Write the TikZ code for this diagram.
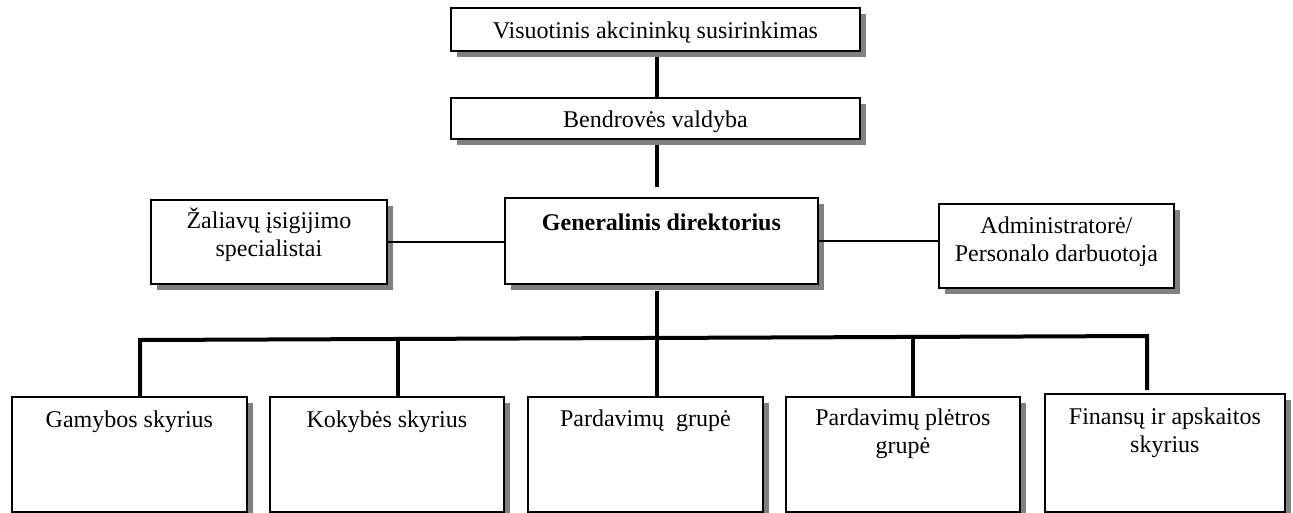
\documentclass[tikz,border=0pt]{standalone}
\usepackage{fontspec}
\setmainfont{Liberation Serif}
\usetikzlibrary{shadows}

% box contents: width, height, first baseline offset, text
\newcommand{\orgtext}[4]{\parbox[t][#2][t]{#1}{\centering\rule{0pt}{#3}#4}}

\tikzset{
  orgbox/.style={draw=black, line width=1.8pt, fill=white, inner sep=0pt,
    anchor=north west, font=\fontsize{24}{27.6}\selectfont,
    drop shadow={shadow xshift=6pt, shadow yshift=-6pt, fill=black!50, opacity=1}},
  trunk/.style={line width=4pt},
  side/.style={line width=1.3pt},
}

\begin{document}
\begin{tikzpicture}[x=1pt, y=-1pt]
  \useasboundingbox (0,0) rectangle (1293,512);

  % governing bodies
  \node[orgbox] (vas) at (450,7)   {\orgtext{409pt}{43pt}{30.5pt}{Visuotinis akcininkų susirinkimas}};
  \node[orgbox] (val) at (450,97)  {\orgtext{409pt}{41pt}{30pt}{Bendrovės valdyba}};

  % director level
  \node[orgbox] (zal) at (150,199) {\orgtext{236pt}{84pt}{29pt}{Žaliavų įsigijimo\\specialistai}};
  \node[orgbox] (gen) at (504,197) {\orgtext{313pt}{86pt}{33pt}{\bfseries Generalinis direktorius}};
  \node[orgbox] (adm) at (938,203) {\orgtext{235pt}{84pt}{30pt}{Administratorė/\\Personalo darbuotoja}};

  % departments
  \node[orgbox] (gam) at (11,396)   {\orgtext{235pt}{115pt}{31pt}{Gamybos skyrius}};
  \node[orgbox] (kok) at (269,396)  {\orgtext{234pt}{115pt}{31pt}{Kokybės skyrius}};
  \node[orgbox] (par) at (527,396)  {\orgtext{235pt}{115pt}{30pt}{Pardavimų\ \ grupė}};
  \node[orgbox] (ple) at (785,396)  {\orgtext{234pt}{115pt}{29pt}{Pardavimų plėtros\\grupė}};
  \node[orgbox] (fin) at (1044,393) {\orgtext{240pt}{118pt}{31pt}{Finansų ir apskaitos\\skyrius}};

  % vertical spine and branch points on the distribution bar
  \coordinate (spine) at (657,0);
  \coordinate (b1) at (140,340);
  \coordinate (b2) at (398,339);
  \coordinate (b3) at (657,338);
  \coordinate (b4) at (913,337);
  \coordinate (b5) at (1147,336);

  \draw[trunk, shorten <=5pt] (vas.south -| spine) -- (val.north -| spine);
  \draw[trunk, shorten <=5pt, shorten >=10pt] (val.south -| spine) -- (gen.north -| spine);
  \draw[trunk, shorten <=6pt] (gen.south -| spine) -- (b3);

  % staff links
  \draw[side] (zal.east) -- (zal.east -| gen.west);
  \draw[side] (gen.east) -- (gen.east -| adm.west);

  % distribution bar with drops to departments
  \draw[trunk, line join=miter] (b1 |- gam.north) -- (b1) -- (b5) -- ([yshift=3pt]b5 |- fin.north);
  \draw[trunk] (b2) -- (b2 |- kok.north);
  \draw[trunk] (b3) -- (b3 |- par.north);
  \draw[trunk] (b4) -- (b4 |- ple.north);
\end{tikzpicture}
\end{document}
